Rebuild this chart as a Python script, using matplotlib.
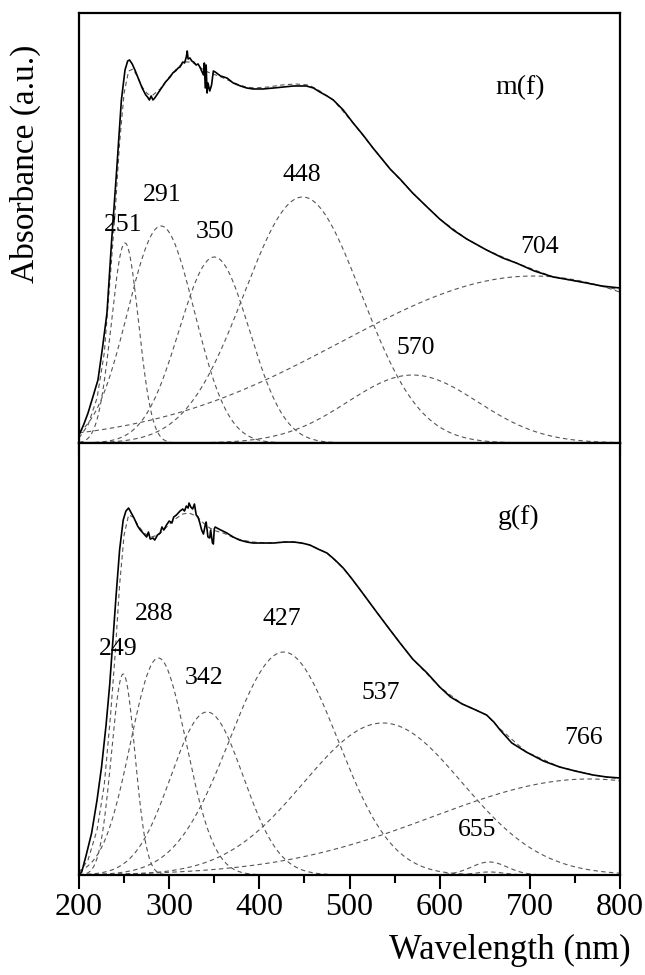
import numpy as np
import matplotlib
matplotlib.use('Agg')
import matplotlib.pyplot as plt

plt.rcParams['font.family'] = ['Liberation Serif', 'DejaVu Serif']

# measured spectrum, m(f) sample (height above baseline, a.u.)
wl_m = [200, 205, 210, 215, 221, 226, 231, 236, 242, 247, 251, 254, 256, 259, 262, 266,
        270, 274, 276, 278, 280, 282, 284, 287, 290, 293, 296, 299, 301, 304, 307, 310,
        312, 315, 317, 319, 320, 321, 323, 325, 327, 330, 332, 334, 336, 338, 339, 340,
        341, 342, 343, 345, 347, 348, 349, 351, 354, 357, 364, 371, 379, 386, 393, 404,
        416, 427, 438, 452, 460, 467, 475, 482, 493, 504, 515, 526, 536, 545, 556, 570,
        586, 600, 615, 630, 652, 670, 685, 705, 726, 745, 763, 780, 800]
abs_m = [8, 18, 30, 45, 63, 95, 130, 200, 276, 343, 373, 382, 383, 379, 373, 364,
         355, 348, 346, 343, 347, 343, 345, 349, 353, 357, 361, 364, 366, 370, 372, 375,
         376, 381, 380, 386, 392, 384, 385, 382, 381, 378, 379, 376, 372, 368, 380, 355,
         378, 350, 360, 352, 358, 365, 372, 371, 369, 367, 365, 360, 357, 355, 354, 354,
         355, 356, 357, 357, 355, 351, 347, 343, 333, 320, 308, 295, 284, 274, 264, 250,
         236, 224, 213, 204, 193, 185, 180, 172, 166, 163, 160, 157, 155]

# fitted envelope, m(f)
wl_mfit = [200, 210, 220, 228, 235, 240, 245, 250, 255, 260, 265, 270, 276, 282, 290, 300,
           310, 318, 325, 332, 340, 348, 355, 365, 375, 385, 395, 410, 425, 440, 455, 467,
           482, 504, 526, 545, 570, 600, 630, 652, 685, 726, 763, 800]
abs_mfit = [5, 18, 45, 90, 170, 230, 300, 350, 372, 374, 366, 356, 349, 348, 354, 366,
            376, 381, 381, 377, 372, 369, 367, 363, 359, 356, 355, 356, 358, 359, 358, 352,
            343, 320, 295, 274, 250, 224, 204, 193, 180, 166, 160, 153]

# measured spectrum, g(f) sample
wl_g = [200, 203, 208, 214, 220, 225, 230, 234, 238, 241, 245, 249, 252, 255, 258, 261,
        265, 268, 272, 275, 277, 279, 282, 284, 287, 290, 292, 294, 297, 300, 303, 305,
        308, 310, 312, 315, 317, 319, 321, 322, 324, 326, 328, 330, 332, 334, 336, 338,
        340, 341, 343, 345, 346, 348, 349, 350, 351, 355, 364, 371, 378, 386, 393, 404,
        416, 428, 438, 447, 456, 465, 475, 484, 493, 502, 512, 521, 530, 545, 556, 570,
        586, 600, 612, 625, 640, 652, 660, 667, 680, 696, 715, 733, 750, 770, 785, 800]
abs_g = [0, 3, 20, 42, 75, 108, 150, 190, 240, 278, 325, 355, 364, 367, 362, 357,
         349, 345, 341, 338, 343, 336, 337, 335, 340, 342, 348, 345, 350, 354, 352, 358,
         360, 362, 364, 366, 364, 369, 367, 372, 368, 366, 371, 360, 358, 352, 345, 341,
         350, 353, 338, 337, 345, 332, 331, 346, 348, 346, 342, 338, 335, 333, 332, 332,
         332, 333, 333, 332, 330, 326, 322, 315, 307, 297, 285, 274, 263, 245, 232, 216,
         202, 188, 178, 171, 165, 160, 153, 145, 132, 123, 114, 108, 104, 100, 98, 97]

# fitted envelope, g(f)
wl_gfit = [200, 210, 220, 228, 235, 240, 245, 250, 255, 260, 266, 272, 280, 288, 296, 305,
           315, 322, 330, 338, 345, 352, 360, 370, 380, 393, 410, 428, 440, 456, 475, 493,
           512, 530, 545, 570, 600, 625, 652, 667, 696, 733, 770, 800]
abs_gfit = [2, 15, 45, 90, 160, 220, 290, 340, 360, 358, 349, 342, 338, 340, 347, 355,
            361, 362, 359, 352, 347, 344, 342, 338, 335, 333, 332, 333, 333, 330, 322, 307,
            285, 263, 245, 216, 188, 171, 160, 146, 123, 108, 100, 96]

# gaussian bands: centre (nm), height, width (sigma, nm)
m_centre = [251, 291, 350, 448, 570, 704]
m_height = [200, 217, 186, 246, 68, 167]
m_width = [15, 37, 39, 65, 72, 213]

g_centre = [249, 288, 342, 427, 537, 655, 655, 766]
g_height = [201, 217, 163, 223, 152, 13, 3, 96]
g_width = [13, 31, 40, 60, 88, 20, 16, 174]

m_labels = ['251', '291', '350', '448', '570', '704']
g_labels = ['249', '288', '342', '427', '537', '655', '766']


def gauss(x, c, h, w):
    return h * np.exp(-(x - c) ** 2 / (2.0 * w ** 2))


x = np.linspace(200, 800, 1201)
dash = dict(color='#555555', lw=0.8, dashes=(4, 3))

fig = plt.figure(figsize=(6.45, 9.75), dpi=100)
ax1 = fig.add_axes([0.1225, 0.5456, 0.8388, 0.4411])
ax2 = fig.add_axes([0.1225, 0.1026, 0.8388, 0.4430])

for ax, wl, ab, wf, af, cen, hei, wid in [
        (ax1, wl_m, abs_m, wl_mfit, abs_mfit, m_centre, m_height, m_width),
        (ax2, wl_g, abs_g, wl_gfit, abs_gfit, g_centre, g_height, g_width)]:
    for c, h, w in zip(cen, hei, wid):
        ax.plot(x, gauss(x, c, h, w), **dash)
    ax.plot(wf, af, **dash)
    ax.plot(wl, ab, color='black', lw=1.2)
    ax.set_xlim(200, 800)
    ax.set_xticks(range(200, 801, 100))
    ax.set_xticks(range(250, 800, 100), minor=True)
    ax.set_yticks([])
    ax.tick_params(axis='x', which='major', direction='out', length=10, width=1.5,
                   labelsize=23, pad=3)
    ax.tick_params(axis='x', which='minor', direction='out', length=6, width=1.5)
    for s in ax.spines.values():
        s.set_linewidth(1.6)

ax1.set_ylim(0, 430)
ax2.set_ylim(0, 432)
ax1.tick_params(axis='x', labelbottom=False)

fs = 18.5
m_pos = [(249, 218), (292, 248), (351, 211), (447, 268), (573, 95), (711, 196)]
for t, (px, py) in zip(m_labels, m_pos):
    ax1.text(px, py, t, fontsize=fs, ha='center', va='center')
g_pos = [(243, 226), (283, 261), (339, 197), (425, 256), (535, 182), (641, 45), (759, 137)]
for t, (px, py) in zip(g_labels, g_pos):
    ax2.text(px, py, t, fontsize=fs, ha='center', va='center')

ax1.text(689, 355, 'm(f)', fontsize=20, ha='center', va='center')
ax2.text(687, 358, 'g(f)', fontsize=20, ha='center', va='center')

fig.text(0.039, 1 - 164 / 975, 'Absorbance (a.u.)', rotation=90, fontsize=24,
         ha='center', va='center')
fig.text(510 / 645, 1 - 950 / 975, 'Wavelength (nm)', fontsize=25,
         ha='center', va='center')

fig.savefig('out.png', dpi=100)
